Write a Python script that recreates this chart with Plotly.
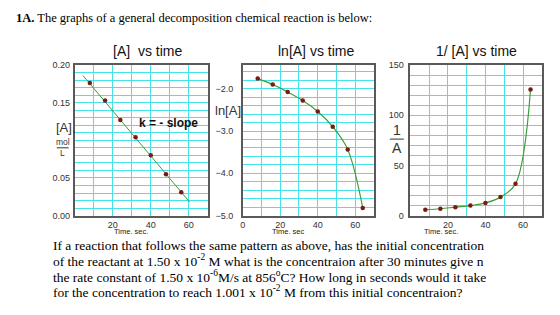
import plotly.graph_objects as go

# ---------------- data ----------------
time_pts = [8, 16, 24, 32, 40, 48, 56]
conc = [0.176, 0.153, 0.127, 0.104, 0.080, 0.055, 0.031]
fit_time = [4.4, 60.4]
fit_conc = [0.186, 0.018]

ln_time = [8, 16, 24, 32, 40, 48, 56, 64]
ln_conc = [-1.76, -1.90, -2.08, -2.28, -2.54, -2.90, -3.44, -4.82]

inv_time = [8, 16, 24, 32, 40, 48, 56, 64]
inv_conc = [5.8, 6.8, 8.4, 10.0, 12.6, 18.4, 31.6, 125.7]

x_ticks_1 = [20, 40, 60]
x_ticks_2 = [0, 20, 40, 60]
x_ticks_3 = [20, 40, 60]
y_ticks_1 = [0.0, 0.05, 0.15, 0.20]
y_ticks_2 = [-5.0, -4.0, -3.0, -2.0]
y_ticks_3 = [0, 50, 100, 150]

titles = ["[A]\u00a0 vs time", "ln[A] vs time", "1/ [A] vs time"]
x_titles = ["Time. sec.", "Time. sec", "Time. sec."]
header = "<b>1A.</b> The graphs of a general decomposition chemical reaction is below:"
question = [
    "If a reaction that follows the same pattern as above, has the initial concentration",
    "of the reactant at 1.50 x 10<sup>-2</sup> M what is the concentraion after 30 minutes give n",
    "the rate constant of 1.50 x 10<sup>-6</sup>M/s at 856<sup>o</sup>C? How long in seconds would it take",
    "for the concentration to reach 1.001 x 10<sup>-2</sup> M from this initial concentraion?",
]

# ---------------- style ----------------
W, H = 560, 315
CYAN = "#45e2ea"
FRAME = "#5a5a5a"
GREEN = "#3a9f3a"
DOT = "#7a1a10"
SANS = "Liberation Sans, Arial, sans-serif"
NARROW = "Liberation Sans Narrow, Liberation Sans, Arial, sans-serif"
SERIF = "Liberation Serif, Times New Roman, serif"


def px(x):
    return x / W


def py(y):
    return 1 - y / H


top, bottom = py(62), py(217.5)
doms = [[px(72), px(206)], [px(241), px(373)], [px(409.5), px(541.7)]]

fig = go.Figure()

fig.add_trace(go.Scatter(x=fit_time, y=fit_conc, mode="lines",
                         line=dict(color=GREEN, width=1), xaxis="x", yaxis="y"))
fig.add_trace(go.Scatter(x=time_pts, y=conc, mode="markers",
                         marker=dict(color=DOT, size=4.5), xaxis="x", yaxis="y"))

fig.add_trace(go.Scatter(x=ln_time, y=ln_conc, mode="lines+markers",
                         line=dict(color=GREEN, width=1.2, shape="spline"),
                         marker=dict(color=DOT, size=4.5), xaxis="x2", yaxis="y2"))

fig.add_trace(go.Scatter(x=inv_time, y=inv_conc, mode="lines+markers",
                         line=dict(color=GREEN, width=1.2, shape="spline"),
                         marker=dict(color=DOT, size=4.5), xaxis="x3", yaxis="y3"))


def xaxis(i, tickvals):
    return dict(domain=doms[i], anchor="y" if i == 0 else f"y{i+1}", range=[0, 70],
                tickvals=tickvals, showgrid=True, gridcolor=CYAN, gridwidth=1,
                minor=dict(dtick=10, tick0=0, showgrid=True, gridcolor=CYAN, gridwidth=1),
                showline=True, mirror=True, linecolor=FRAME, linewidth=1.5,
                ticks="", ticklabelstandoff=0,
                tickfont=dict(size=9, color="#333", family=SANS),
                zeroline=False, fixedrange=True)


def yaxis(i, rng, tickvals, fmt, minor_dt, tick0, standoff):
    return dict(domain=[bottom, top], anchor="x" if i == 0 else f"x{i+1}", range=rng,
                tickvals=tickvals, tickformat=fmt, showgrid=True, gridcolor=CYAN, gridwidth=1,
                minor=dict(dtick=minor_dt, tick0=tick0, showgrid=True, gridcolor=CYAN, gridwidth=1),
                showline=True, mirror=True, linecolor=FRAME, linewidth=1.5,
                ticks="", ticklabelstandoff=standoff,
                tickfont=dict(size=9, color="#333", family=SANS),
                zeroline=False, fixedrange=True)


annotations = []


def note(text, x, y, size, color="#111", family=SANS, xanchor="center", bold=False):
    annotations.append(dict(text=f"<b>{text}</b>" if bold else text, x=px(x), y=py(y),
                            xref="paper", yref="paper", xanchor=xanchor, yanchor="middle",
                            showarrow=False, font=dict(size=size, color=color, family=family)))


# titles
for t, cx in zip(titles, [145.5, 315, 476]):
    note(t, cx, 48, 14)
# x axis titles
for t, cx in zip(x_titles, [129, 287, 440]):
    note(t, cx, 234, 7.5, color="#222", family=NARROW)
# y labels
note("[A],", 63, 127, 13, color="#333")
note("mol", 60, 142, 8.5, color="#333")
note("L", 60, 153, 8.5, color="#333")
note("ln[A]", 226, 109, 13, color="#333")
note("1", 396, 129, 14, color="#333")
note("A", 396, 148, 14, color="#333")
note("k = - slope", 166, 122, 12, color="#111", bold=True)
# header and question
note(header, 11, 13, 12.5, color="#000", family=SERIF, xanchor="left")
for i, line in enumerate(question):
    note(line, 48, 248 + i * 16, 13.5, color="#000", family=SERIF, xanchor="left")

shapes = [
    dict(type="line", xref="paper", yref="paper", x0=px(54), x1=px(66), y0=py(147.5), y1=py(147.5),
         line=dict(color="#333", width=1)),
    dict(type="line", xref="paper", yref="paper", x0=px(389), x1=px(403), y0=py(138.5), y1=py(138.5),
         line=dict(color="#333", width=1)),
]

fig.update_layout(
    width=W, height=H, margin=dict(l=0, r=0, t=0, b=0),
    paper_bgcolor="white", plot_bgcolor="white", showlegend=False,
    xaxis=xaxis(0, x_ticks_1), xaxis2=xaxis(1, x_ticks_2), xaxis3=xaxis(2, x_ticks_3),
    yaxis=yaxis(0, [0, 0.20], y_ticks_1, ".2f", 0.01, 0, 1),
    yaxis2=yaxis(1, [-5.0, -1.44], y_ticks_2, ".1f", 0.2, -5.0, 6),
    yaxis3=yaxis(2, [0, 150], y_ticks_3, "d", 10, 0, 3),
    annotations=annotations, shapes=shapes,
)

fig.write_html("out.html")
